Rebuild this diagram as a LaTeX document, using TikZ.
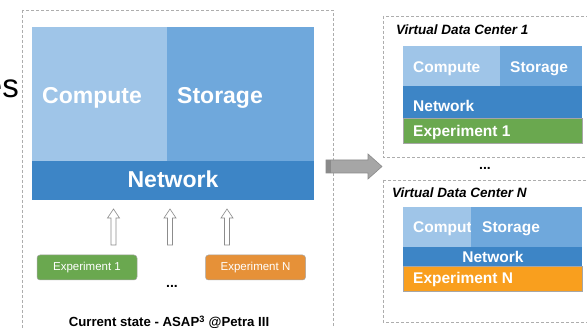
\documentclass[tikz,border=0pt]{standalone}
\usepackage{fontspec}
\setmainfont{Liberation Sans}
\definecolor{computeC}{HTML}{9FC5E8}
\definecolor{storageC}{HTML}{6FA8DC}
\definecolor{networkC}{HTML}{3D85C6}
\definecolor{greenC}{HTML}{6AA84F}
\definecolor{orangeL}{HTML}{E69138}
\definecolor{orangeR}{HTML}{F99F1E}
\definecolor{dashC}{HTML}{ADADAD}
\definecolor{arrowC}{HTML}{A6A6A6}
\definecolor{arrowD}{HTML}{8A8A8A}
\tikzset{
  blk/.style={anchor=north west, inner sep=0pt, outer sep=0pt},
  bigtxt/.style={text=white, inner sep=0pt, font=\fontsize{23}{27}\selectfont\bfseries},
  smalltxt/.style={text=white, inner sep=0pt, font=\fontsize{15.5}{18}\selectfont\bfseries},
  dashbox/.style={draw=dashC, line width=0.8pt, dash pattern=on 3pt off 2pt},
  expbox/.style={draw=black!35, line width=0.5pt, rounded corners=3pt, minimum width=100pt, minimum height=25pt, inner sep=0pt, text=white, font=\fontsize{11.5}{14}\selectfont},
  titletxt/.style={inner sep=0pt, anchor=base west, font=\fontsize{13.5}{16}\selectfont\bfseries\itshape},
  uparr/.pic={\draw[black!45, fill=white, line width=0.6pt] (0,0) -- (6,9) -- (2.5,9) -- (2.5,36) -- (-2.5,36) -- (-2.5,9) -- (-6,9) -- cycle;}
}
\begin{document}
\begin{tikzpicture}[x=1pt,y=-1pt]
\useasboundingbox (0,0) rectangle (587,328);
\clip (0,0) rectangle (587,328);
\fill[white] (0,0) rectangle (587,328);

% fragment of clipped heading
\node[inner sep=0pt, anchor=base east, font=\fontsize{33}{36}\selectfont] (frag) at (19,98) {es};

% left container
\draw[dashbox] (22,10) rectangle (333,345);

% left block
\node[blk, fill=computeC, minimum width=135pt, minimum height=134pt] (lcomp) at (32,27) {};
\node[bigtxt, anchor=base west] (lcompt) at (42,104) {Compute};
\node[blk, fill=storageC, minimum width=147pt, minimum height=134pt] (lstor) at (167,27) {};
\node[bigtxt, anchor=base west] (lstort) at (177,104) {Storage};
\node[blk, fill=networkC, minimum width=282pt, minimum height=39pt] (lnet) at (32,161) {};
\node[bigtxt, anchor=base] (lnett) at (173,188) {Network};

% hollow arrows
\pic at (113.5,209) {uparr};
\pic at (170,209) {uparr};
\pic at (227,209) {uparr};

% experiment boxes
\node[expbox, fill=greenC] (lexp1) at (87,267.5) {Experiment 1};
\node[expbox, fill=orangeL] (lexpn) at (255.5,267.5) {Experiment N};
\node[inner sep=0pt, font=\fontsize{14}{16}\selectfont\bfseries] (ldots) at (172,286) {...};
\node[inner sep=0pt, anchor=base, font=\fontsize{13.2}{16}\selectfont\bfseries] (cap) at (169,326.5) {Current state - ASAP\textsuperscript{3} @Petra III};

% big gray arrow
\draw[arrowD, fill=arrowC, line width=0.6pt] (326,160) -- (368,160) -- (368,154) -- (382,166.5) -- (368,179) -- (368,173) -- (326,173) -- cycle;
\fill[arrowD] (326.3,160.3) rectangle (331,172.7);

% VDC 1
\draw[dashbox] (383,16) rectangle (600,157);
\node[titletxt] (t1) at (396,35) {Virtual Data Center 1};
\node[blk, fill=computeC, minimum width=97pt, minimum height=40pt] (c1) at (403,46) {};
\node[smalltxt, anchor=base west] (c1t) at (413,73) {Compute};
\node[blk, fill=storageC, minimum width=82pt, minimum height=40pt] (s1) at (500,46) {};
\node[smalltxt, anchor=base west] (s1t) at (510,73) {Storage};
\node[blk, fill=networkC, minimum width=179pt, minimum height=32pt] (n1) at (403,86) {};
\node[smalltxt, anchor=base west] (n1t) at (413,112) {Network};
\node[blk, fill=greenC, draw=black!35, line width=0.5pt, minimum width=179pt, minimum height=25pt] (e1) at (403,118) {};
\node[smalltxt, anchor=base west] (e1t) at (413,137) {Experiment 1};

\node[inner sep=0pt, font=\fontsize{14}{16}\selectfont\bfseries] (rdots) at (485,168) {...};

% VDC N
\draw[dashbox] (383,180) rectangle (600,322);
\node[titletxt] (tn) at (392,198) {Virtual Data Center N};
\node[blk, fill=computeC, minimum width=68pt, minimum height=40pt] (cn) at (403,207) {};
\node[smalltxt, anchor=base west] (cnt) at (413,233) {Compute};
\node[blk, fill=storageC, minimum width=111pt, minimum height=40pt] (sn) at (471,207) {};
\node[smalltxt, anchor=base west] (snt) at (482,233) {Storage};
\node[blk, fill=networkC, minimum width=179pt, minimum height=19pt] (nn) at (403,247) {};
\node[smalltxt, anchor=base] (nnt) at (493,263) {Network};
\node[blk, fill=orangeR, draw=black!35, line width=0.5pt, minimum width=179pt, minimum height=25pt] (en) at (403,266) {};
\node[smalltxt, anchor=base west] (ent) at (413,284) {Experiment N};
\end{tikzpicture}
\end{document}
